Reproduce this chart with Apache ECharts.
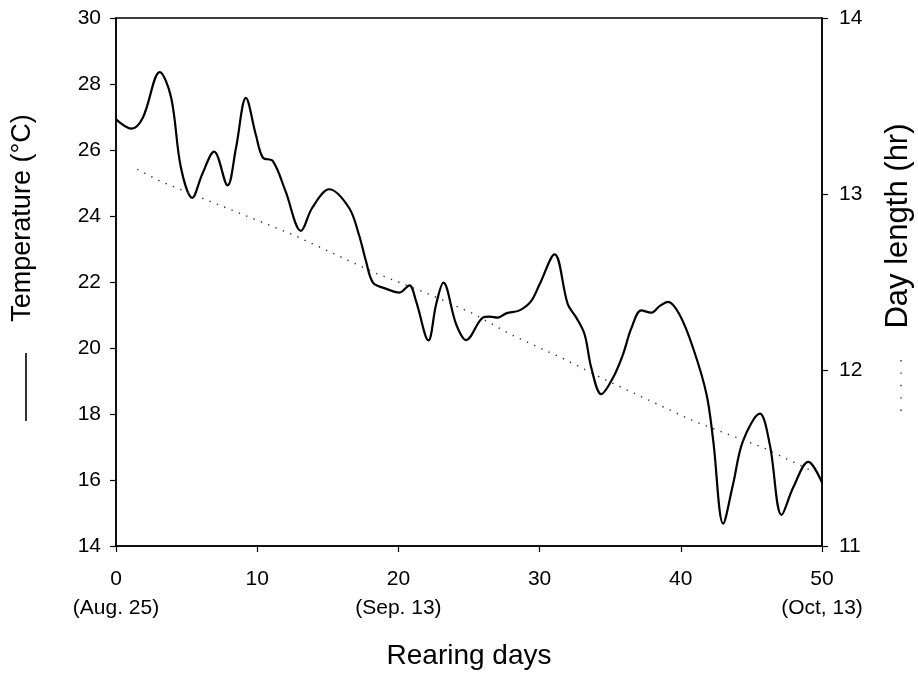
<!DOCTYPE html>
<html><head><meta charset="utf-8">
<script src="https://cdn.jsdelivr.net/npm/echarts@6/dist/echarts.min.js"></script>
<style>html,body{margin:0;padding:0;background:#fff}#c{width:918px;height:678px}</style>
</head><body><div id="c"></div>
<script>
var temperature = [[0,26.93],[1.1,26.65],[1.9,26.98],[3.1,28.36],[3.9,27.6],[4.6,25.46],[5.4,24.55],[6.1,25.26],[6.95,25.95],[7.9,24.93],[8.5,26.07],[9.2,27.58],[9.9,26.47],[10.4,25.77],[11.1,25.67],[12.0,24.76],[13.1,23.55],[13.9,24.25],[15.1,24.81],[16.5,24.25],[17.2,23.44],[17.7,22.64],[18.2,21.98],[19.1,21.8],[20.07,21.68],[20.78,21.9],[21.25,21.42],[22.13,20.23],[22.67,21.32],[23.19,21.98],[24.09,20.72],[24.8,20.24],[25.98,20.92],[26.45,20.95],[27.04,20.92],[27.64,21.05],[28.58,21.14],[29.4,21.42],[30.0,21.93],[31.06,22.84],[32.0,21.32],[32.6,20.92],[33.19,20.41],[33.66,19.4],[34.37,18.6],[35.2,19.1],[35.9,19.8],[36.5,20.6],[37.2,21.14],[37.9,21.07],[38.5,21.27],[39.1,21.4],[39.9,21.02],[40.87,20.0],[41.82,18.6],[42.3,17.18],[43.0,14.68],[43.7,15.87],[44.4,17.18],[45.6,18.01],[46.3,17.08],[47.14,14.94],[47.96,15.77],[49.03,16.55],[50,15.92]];
var dayLength = [[1.5,13.14],[3.2,13.07],[12.5,12.77],[18.4,12.55],[22.2,12.43],[25.3,12.32],[28.0,12.20],[31.8,12.06],[34.5,11.95],[40.9,11.71],[45.8,11.56],[49.2,11.43]];
var dateLabels = {0:'(Aug. 25)', 20:'(Sep. 13)', 50:'(Oct, 13)'};
var xTitle = 'Rearing days';
var yLeftTitle = 'Temperature (°C)';
var yRightTitle = 'Day length (hr)';

var font = '"Liberation Sans", Arial, sans-serif';
var chart = echarts.init(document.getElementById('c'), null, {renderer:'canvas'});
chart.setOption({
  animation:false,
  grid:{left:116, right:96, top:18, bottom:132, containLabel:false, outerBoundsMode:'none',
    show:true, borderColor:'#000', borderWidth:1.5, backgroundColor:'transparent'},
  xAxis:{type:'value', min:0, max:50, interval:10,
    axisLine:{show:true, lineStyle:{color:'#000', width:1.5}},
    axisTick:{show:true, inside:false, length:6, lineStyle:{color:'#000', width:1.2}},
    splitLine:{show:false},
    axisLabel:{color:'#000', fontFamily:font, fontSize:21, margin:19, lineHeight:29,
      formatter:function(v){ return dateLabels[v] ? v + '\n' + dateLabels[v] : String(v); }},
    name:xTitle, nameLocation:'middle', nameGap:96,
    nameTextStyle:{color:'#000', fontFamily:font, fontSize:28}
  },
  yAxis:[
    {type:'value', min:14, max:30, interval:2, position:'left',
      axisLine:{show:true, lineStyle:{color:'#000', width:1.5}},
      axisTick:{show:true, length:6, lineStyle:{color:'#000', width:1.2}},
      splitLine:{show:false},
      axisLabel:{color:'#000', fontFamily:font, fontSize:21, margin:15}
    },
    {type:'value', min:11, max:14, interval:1, position:'right',
      axisLine:{show:true, lineStyle:{color:'#000', width:1.5}},
      axisTick:{show:true, length:6, lineStyle:{color:'#000', width:1.2}},
      splitLine:{show:false},
      axisLabel:{color:'#000', fontFamily:font, fontSize:21, margin:17}
    }
  ],
  graphic:[
    {type:'text', x:23, y:218, rotation:Math.PI/2, style:{text:yLeftTitle, fill:'#000', font:'27px ' + font, textAlign:'center', textVerticalAlign:'middle'}},
    {type:'line', shape:{x1:26, y1:353, x2:26, y2:421}, style:{stroke:'#000', lineWidth:1.6}},
    {type:'text', x:898, y:226, rotation:Math.PI/2, style:{text:yRightTitle, fill:'#000', font:'31px ' + font, textAlign:'center', textVerticalAlign:'middle'}},
    {type:'line', shape:{x1:901, y1:360, x2:901, y2:412}, style:{stroke:'#333', lineWidth:1.4, lineDash:[1.4,11]}}
  ],
  series:[
    {type:'line', yAxisIndex:0, data:temperature, smooth:0.35, showSymbol:false, symbol:'none',
      lineStyle:{color:'#000', width:2.2}},
    {type:'line', yAxisIndex:1, data:dayLength, smooth:false, showSymbol:false, symbol:'none',
      lineStyle:{color:'#333', width:1.4, type:[1.4,6.5]}}
  ]
});
</script></body></html>
